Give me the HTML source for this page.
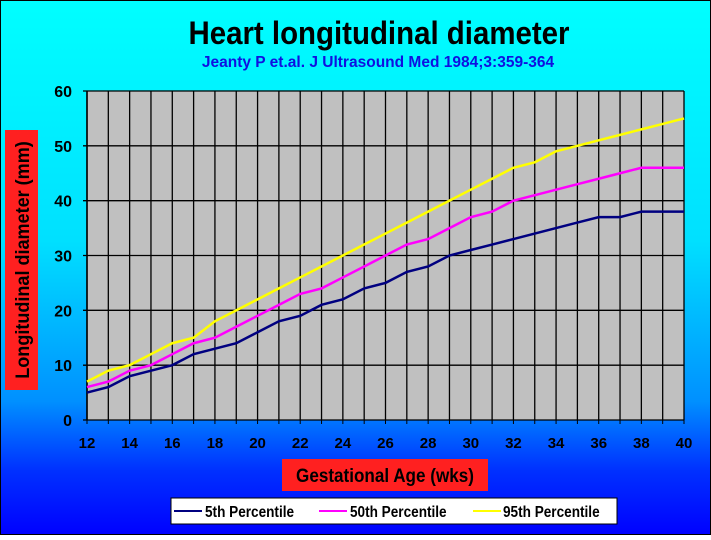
<!DOCTYPE html>
<html><head><meta charset="utf-8"><style>
html,body{margin:0;padding:0}
body{width:711px;height:535px;overflow:hidden;font-family:"Liberation Sans",sans-serif}
</style></head><body>
<svg id="c" width="711" height="535" xmlns="http://www.w3.org/2000/svg">
<defs><linearGradient id="bg" x1="0" y1="0" x2="0" y2="1">
<stop offset="0" stop-color="#00ffff"/><stop offset="0.45" stop-color="#00e0ff"/><stop offset="0.75" stop-color="#0090ff"/><stop offset="0.88" stop-color="#0030ff"/><stop offset="1" stop-color="#0000ff"/></linearGradient></defs>
<rect x="0" y="0" width="711" height="535" fill="url(#bg)" stroke="#000" stroke-width="2"/>
<text x="379" y="44" text-anchor="middle" font-size="32" font-weight="bold" fill="#000" transform="translate(379,0) scale(0.92,1) translate(-379,0)">Heart longitudinal diameter</text>
<text x="378" y="67" text-anchor="middle" font-size="16" font-weight="bold" fill="#1010e0" transform="translate(378,0) scale(0.97,1) translate(-378,0)">Jeanty P et.al. J Ultrasound Med 1984;3:359-364</text>
<rect x="87" y="91" width="597" height="329" fill="#c0c0c0"/>
<g id="grid"></g><g id="axes"></g><g id="series"></g>
<rect x="5" y="130" width="33" height="260" fill="#ff2020"/>
<text x="0" y="0" transform="translate(29,260) rotate(-90) scale(0.95,1)" text-anchor="middle" font-size="19" font-weight="bold" fill="#000">Longitudinal diameter (mm)</text>
<rect x="282" y="459" width="206" height="32" fill="#ff2020"/>
<text x="385" y="482" text-anchor="middle" font-size="19" font-weight="bold" fill="#000" transform="translate(385,0) scale(0.9,1) translate(-385,0)">Gestational Age (wks)</text>
<g>
<rect x="171" y="498" width="446" height="26" fill="#fff" stroke="#000" stroke-width="1"/>
<line x1="174" y1="511" x2="202" y2="511" stroke="#000080" stroke-width="2"/>
<text x="205" y="517" font-size="16" font-weight="bold" transform="translate(205,0) scale(0.85,1) translate(-205,0)">5th Percentile</text>
<line x1="319" y1="511" x2="347" y2="511" stroke="#ff00ff" stroke-width="2"/>
<text x="350" y="517" font-size="16" font-weight="bold" transform="translate(350,0) scale(0.85,1) translate(-350,0)">50th Percentile</text>
<line x1="473" y1="511" x2="501" y2="511" stroke="#ffff00" stroke-width="2"/>
<text x="503" y="517" font-size="16" font-weight="bold" transform="translate(503,0) scale(0.85,1) translate(-503,0)">95th Percentile</text>
</g>
</svg>
<script>
const weeks=[12,13,14,15,16,17,18,19,20,21,22,23,24,25,26,27,28,29,30,31,32,33,34,35,36,37,38,39,40];
const p5=[5,6,8,9,10,12,13,14,16,18,19,21,22,24,25,27,28,30,31,32,33,34,35,36,37,37,38,38,38];
const p50=[6,7,9,10,12,14,15,17,19,21,23,24,26,28,30,32,33,35,37,38,40,41,42,43,44,45,46,46,46];
const p95=[7,9,10,12,14,15,18,20,22,24,26,28,30,32,34,36,38,40,42,44,46,47,49,50,51,52,53,54,55];
const yTicks=[0,10,20,30,40,50,60];
const xTickLabels=[12,14,16,18,20,22,24,26,28,30,32,34,36,38,40];
const NS="http://www.w3.org/2000/svg";
const X0=87,X1=684,Y0=420,Y1=91;
const xs=w=>X0+(w-12)/(40-12)*(X1-X0);
const ys=v=>Y0-v/60*(Y0-Y1);
function mk(tag,attrs,parent){const e=document.createElementNS(NS,tag);for(const k in attrs)e.setAttribute(k,attrs[k]);parent.appendChild(e);return e;}
const grid=document.getElementById('grid'),axes=document.getElementById('axes'),series=document.getElementById('series');
weeks.forEach(w=>{const l=mk('line',{x1:xs(w),x2:xs(w),y1:Y1,y2:Y0,stroke:'#000','stroke-width':1.3},grid);


const t=mk('line',{x1:xs(w),x2:xs(w),y1:Y0,y2:Y0+4,stroke:'#000'},axes);

});
yTicks.forEach(v=>{const l=mk('line',{x1:X0-4,x2:X1,y1:ys(v),y2:ys(v),stroke:'#000','stroke-width':1.3},grid);


const t=mk('text',{x:72,y:ys(v)+6,'text-anchor':'end','font-size':16,'font-weight':'bold'},axes);t.textContent=v;

});
xTickLabels.forEach(w=>{const t=mk('text',{x:xs(w),y:448,'text-anchor':'middle','font-size':15,'font-weight':'bold'},axes);t.textContent=w;

});
const ax=mk('line',{x1:X0,x2:X0,y1:Y1,y2:Y0,stroke:'#000','stroke-width':1.5},axes);


[[p5,'#000080','line-5th-percentile'],[p50,'#ff00ff','line-50th-percentile'],[p95,'#ffff00','line-95th-percentile']].forEach(([d,c,n])=>{
const pl=mk('polyline',{points:d.map((v,i)=>xs(weeks[i])+','+ys(v)).join(' '),fill:'none',stroke:c,'stroke-width':2.5},series);

});
</script>
</body></html>
